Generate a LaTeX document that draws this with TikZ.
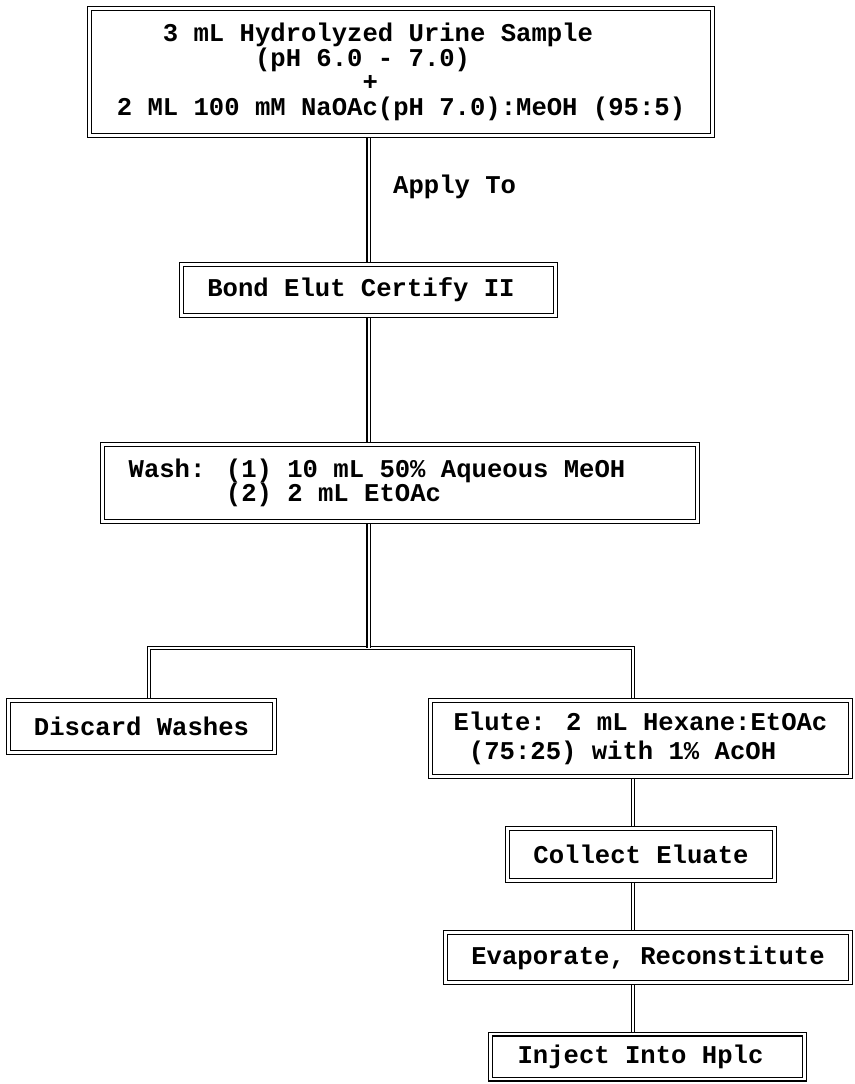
\documentclass[tikz,border=0pt]{standalone}
\usepackage{fontspec}
\setmainfont{Liberation Mono}
\begin{document}
\begin{tikzpicture}[x=1pt,y=-1pt,
  lab/.style={font=\bfseries\fontsize{25.6}{24.7}\selectfont},
  box/.style={lab, draw, double, line width=1.3pt, double distance=2.4pt,
    fill=white, inner sep=0pt, outer sep=2.5pt, align=left},
  wire/.style={draw, double, line width=1.2pt, double distance=2pt}]
\useasboundingbox[fill=white] (0,0) rectangle (854,1084);

% boxes
\node[box, minimum width=623pt, minimum height=127pt] (b1) at (401,72)
  {\phantom{000}3 mL Hydrolyzed Urine Sample\\
   \phantom{000000000}(pH 6.0 - 7.0)\\
   \phantom{0000000000000000}+\\
   2 ML 100 mM NaOAc(pH 7.0):MeOH (95:5)};
\node[box, minimum width=374pt, minimum height=51pt] (b2) at (368.5,290)
  {Bond Elut Certify II\rule{15pt}{0pt}};
\node[box, minimum width=595pt, minimum height=77pt] (b3) at (400,483)
  {Wash: (1) 10 mL 50\% Aqueous MeOH\rule{46pt}{0pt}\\
   \phantom{Wash: }(2) 2 mL EtOAc};
\node[box, minimum width=266pt, minimum height=52pt] (discard) at (141.5,726.5)
  {Discard Washes};
\node[box, minimum width=420pt, minimum height=76pt] (elute) at (640.5,738.5)
  {Elute: 2 mL Hexane:EtOAc\\[4pt]
   \phantom{0}(75:25) with 1\% AcOH};
\node[box, minimum width=267pt, minimum height=52pt] (collect) at (641,854.5)
  {Collect Eluate};
\node[box, minimum width=405pt, minimum height=50pt] (evap) at (648,957.5)
  {Evaporate, Reconstitute};
\node[box, minimum width=314pt, minimum height=45pt] (inject) at (647.5,1056.5)
  {Inject Into Hplc\rule{14pt}{0pt}};

% junction coordinates
\coordinate (j) at (368.5,648);
\coordinate (jl) at (149,648);
\coordinate (jr) at (633,648);

% connectors
\draw[wire] (b1.south -| b2.north) -- (b2.north);
\draw[wire] (b2.south) -- (b2.south |- b3.north);
\draw[wire] (jl |- discard.north) -- (jl) -- (jr) -- (jr |- elute.north);
\draw[wire] (b3.south -| j) -- (j);
\draw[wire] (elute.south -| jr) -- (jr |- collect.north);
\draw[wire] (collect.south -| jr) -- (jr |- evap.north);
\draw[wire] (evap.south -| jr) -- (jr |- inject.north);

% label
\node[lab, anchor=west, inner sep=0pt] (apply) at (393,187) {Apply To};
\end{tikzpicture}
\end{document}
